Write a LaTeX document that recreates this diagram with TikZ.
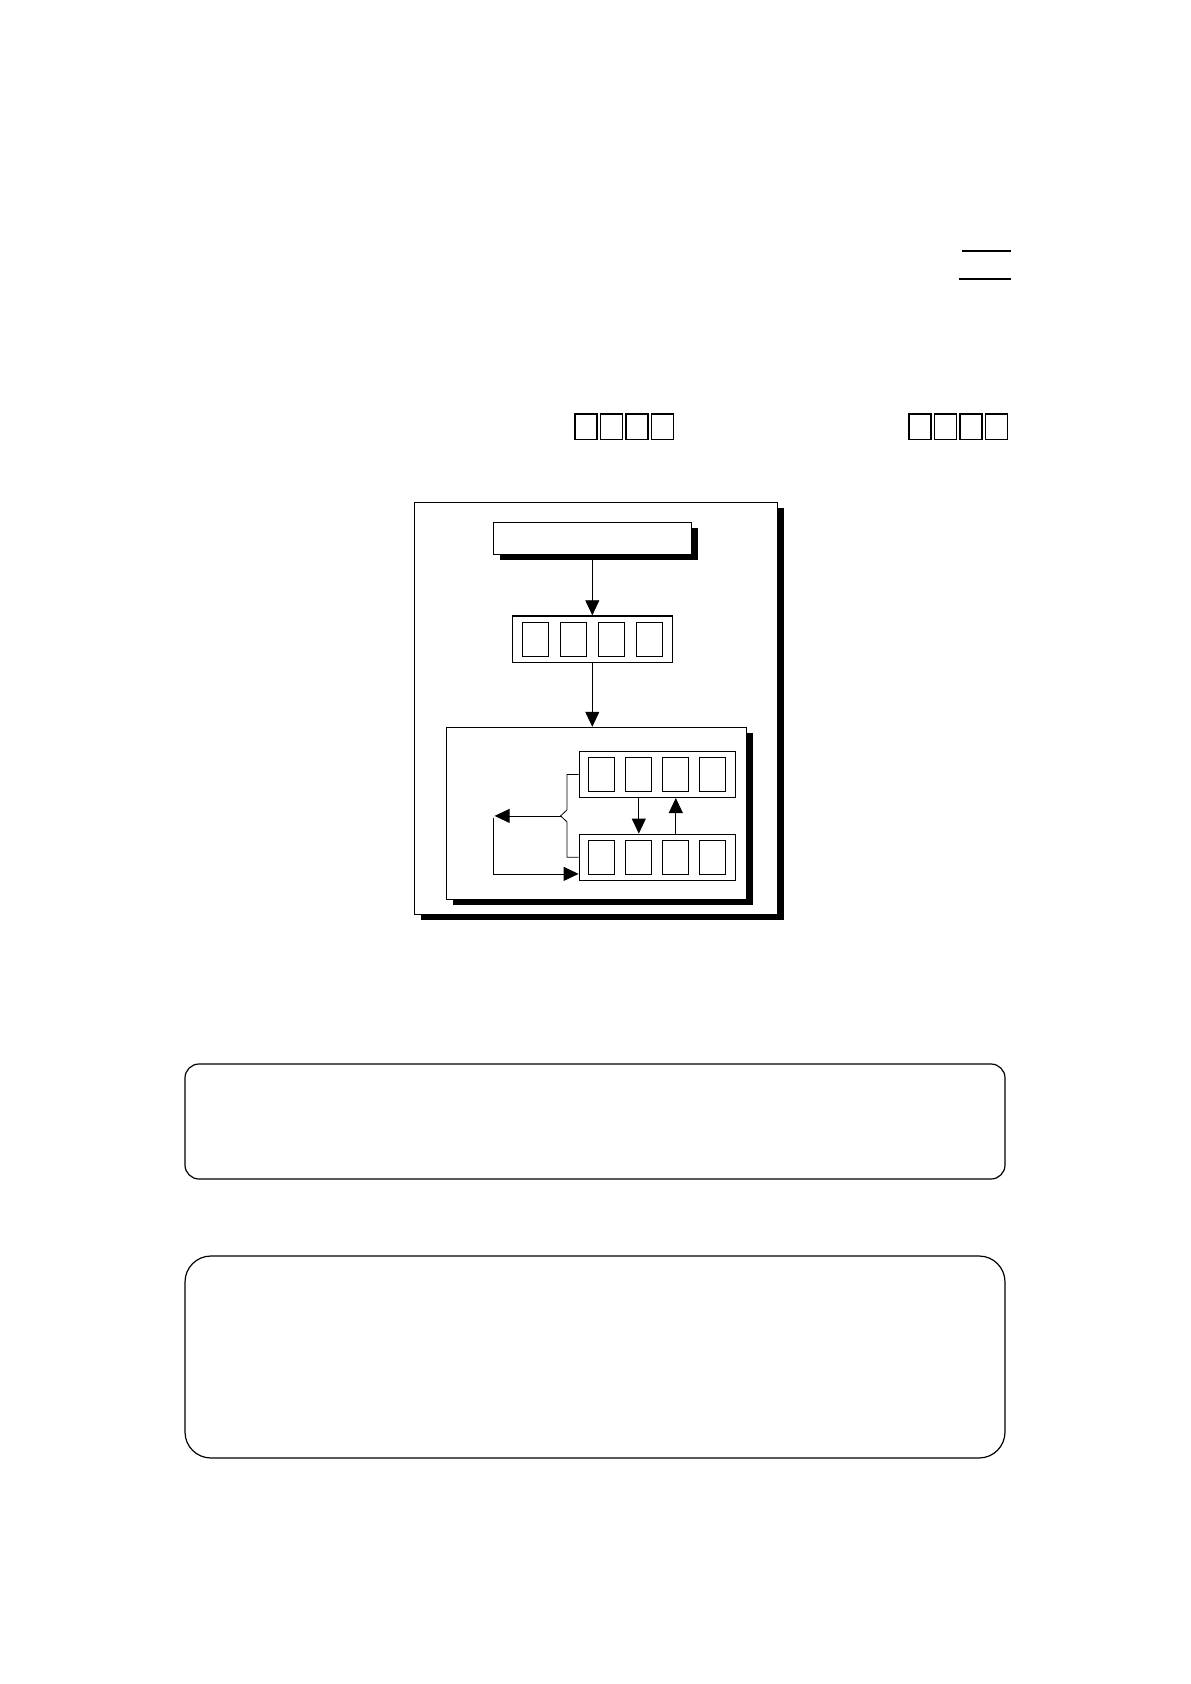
\documentclass[tikz,border=0pt]{standalone}
\usetikzlibrary{arrows.meta,shadows,calc}
\tikzset{
    frame/.style={draw, fill=white, inner sep=0pt, line width=0.5pt},
    shadowed/.style={drop shadow={shadow xshift=3.5pt, shadow yshift=-3pt, fill=black, opacity=1}},
    cell/.style={draw, inner sep=0pt, line width=0.5pt, minimum width=13pt, minimum height=16.8pt},
    tip/.style={-{Triangle[length=7.5pt,width=7pt]}},
    note/.style={draw, inner sep=0pt, line width=0.6pt}
}
\begin{document}
\begin{tikzpicture}[x=0.5pt,y=-0.5pt]
        \useasboundingbox (0,0) rectangle (1190,1684);
        \draw[line width=1pt] (962,251.3) -- (1011,251.3);
        \draw[line width=1pt] (959,279) -- (1011,279);
        \foreach \x in {575,600.5,626,651.5,909,934.5,960,985.5}
            \draw[line width=0.6pt] (\x,414) rectangle ++(22,25.3);
        \node[frame, shadowed, minimum width=181.5pt, minimum height=205.9pt] (outer) at (595.8,708.2) {};
        \node[frame, shadowed, minimum width=99pt, minimum height=16pt] (title) at (592.3,538.3) {};
        \node[frame, line width=0.7pt, minimum width=80pt, minimum height=23.2pt] (reg) at (592.3,639.2) {};
        \node[frame, shadowed, minimum width=150pt, minimum height=86pt] (proc) at (596.3,813.3) {};
        \node[frame, line width=0.7pt, minimum width=78pt, minimum height=22.8pt] (upper) at (657.3,774.5) {};
        \node[frame, line width=0.7pt, minimum width=78pt, minimum height=23pt] (lower) at (657.3,857.3) {};
        \foreach \i in {1,...,4} {
            \node[cell, xshift={(\i-2.5)*19pt}] (r\i) at (reg) {};
            \node[cell, xshift={(\i-2.5)*18.5pt}] (u\i) at (upper) {};
            \node[cell, xshift={(\i-2.5)*18.5pt}] (l\i) at (lower) {};
        }
        \draw[tip] (title.south) -- (reg.north);
        \draw[tip] (reg.south) -- (reg.south |- proc.north);
        \draw[tip] (u2 |- upper.south) -- (u2 |- lower.north);
        \draw[tip] (u3 |- lower.north) -- (u3 |- upper.south);
        \coordinate (mid) at ($(upper.west)!0.5!(lower.west)$);
        \coordinate (fork) at ([xshift=-9pt]mid);
        \coordinate (back) at ([xshift=-33pt]fork);
        \draw (upper.west) -| ([xshift=-5.8pt,yshift=3pt]mid) -- (fork)
            -- ([xshift=-5.8pt,yshift=-3pt]mid) |- (lower.west);
        \draw[tip] (fork) -- (back);
        \draw[tip] ([xshift=-0.8pt,yshift=-1pt]back) |- ([yshift=-8.3pt]lower.west);
        \node[note, rounded corners=7pt, minimum width=410pt, minimum height=57.5pt] (note1) at (595,1121.5) {};
        \node[note, rounded corners=13pt, minimum width=410pt, minimum height=101pt] (note2) at (595,1357) {};
\end{tikzpicture}
\end{document}
